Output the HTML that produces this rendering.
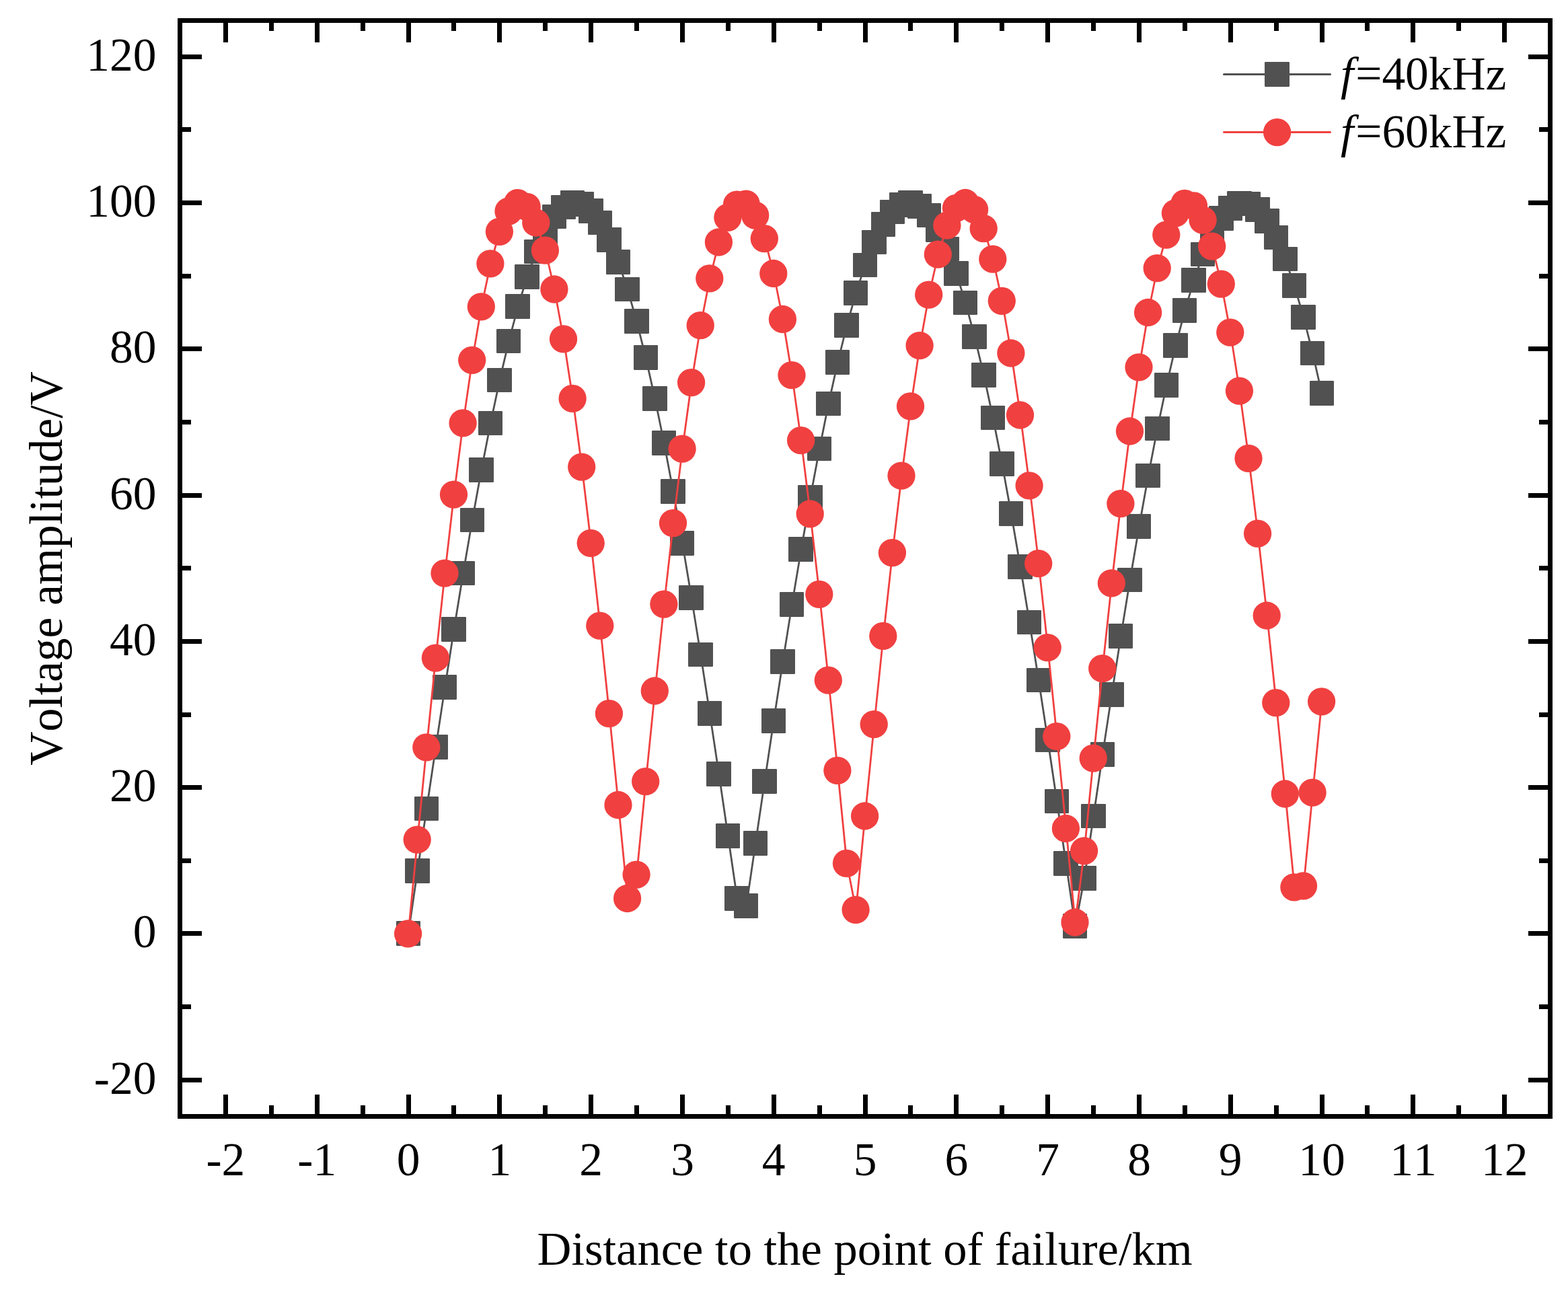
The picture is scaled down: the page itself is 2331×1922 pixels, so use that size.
<!DOCTYPE html>
<html lang="en"><head><meta charset="utf-8"><title>Voltage amplitude vs distance to the point of failure</title>
<style>
html,body{margin:0;padding:0;background:#fff;}
body{width:2331px;height:1922px;}
svg{display:block;}
text{font-family:"Liberation Serif","Times New Roman",Times,serif;fill:#000;font-kerning:none;}
.it{font-style:italic;}
</style></head><body>
<svg width="2331" height="1922" viewBox="0 0 2331 1922">
<rect x="0" y="0" width="2331" height="1922" fill="#ffffff"/>
<g>
<polyline fill="none" stroke="#515151" stroke-width="2.8" stroke-linejoin="round" stroke-linecap="round" points="607.0,1388.0 620.6,1294.8 634.2,1202.2 647.8,1111.0 661.4,1021.9 674.9,935.5 688.5,852.4 702.1,773.2 715.7,698.6 729.3,629.1 742.8,565.2 756.4,507.3 770.0,456.0 783.6,411.5 797.2,374.3 810.8,344.5 824.3,322.4 837.9,308.2 851.5,301.9 865.1,303.7 878.6,313.5 892.2,331.2 905.8,356.7 919.4,389.8 933.0,430.2 946.5,477.8 960.1,532.0 973.7,592.6 987.3,659.0 1000.9,730.9 1014.5,807.5 1028.0,888.5 1041.6,973.1 1055.2,1060.8 1068.8,1150.9 1082.3,1242.8 1095.9,1335.7 1109.5,1346.9 1123.1,1253.9 1136.7,1161.9 1150.2,1071.5 1163.8,983.5 1177.4,898.4 1191.0,817.0 1204.6,739.8 1218.2,667.4 1231.7,600.3 1245.3,539.0 1258.9,483.9 1272.5,435.6 1286.0,394.2 1299.6,360.2 1313.2,333.8 1326.8,315.2 1340.4,304.4 1354.0,301.7 1367.5,307.0 1381.1,320.3 1394.7,341.4 1408.3,370.3 1421.8,406.7 1435.4,450.3 1449.0,500.8 1462.6,557.9 1476.2,621.1 1489.8,690.0 1503.3,764.0 1516.9,842.7 1530.5,925.3 1544.1,1011.4 1557.7,1100.2 1571.2,1191.2 1584.8,1283.6 1598.4,1376.8 1612.0,1305.9 1625.6,1213.2 1639.1,1121.9 1652.7,1032.4 1666.3,945.6 1679.9,862.1 1693.5,782.5 1707.0,707.3 1720.6,637.1 1734.2,572.5 1747.8,513.9 1761.4,461.8 1774.9,416.5 1788.5,378.3 1802.1,347.6 1815.7,324.6 1829.2,309.5 1842.8,302.3 1856.4,303.1 1870.0,311.9 1883.6,328.6 1897.2,353.2 1910.7,385.4 1924.3,425.0 1937.9,471.7 1951.5,525.2 1965.0,585.0"/>
<g fill="#515151">
<rect x="589" y="1369" width="36" height="37" rx="1.2"/>
<rect x="602" y="1276" width="37" height="37" rx="1.2"/>
<rect x="616" y="1184" width="36" height="36" rx="1.2"/>
<rect x="629" y="1092" width="37" height="37" rx="1.2"/>
<rect x="643" y="1003" width="36" height="37" rx="1.2"/>
<rect x="656" y="917" width="37" height="37" rx="1.2"/>
<rect x="670" y="834" width="36" height="36" rx="1.2"/>
<rect x="684" y="755" width="36" height="36" rx="1.2"/>
<rect x="697" y="680" width="37" height="37" rx="1.2"/>
<rect x="711" y="611" width="36" height="36" rx="1.2"/>
<rect x="724" y="547" width="37" height="36" rx="1.2"/>
<rect x="738" y="489" width="36" height="36" rx="1.2"/>
<rect x="751" y="437" width="37" height="37" rx="1.2"/>
<rect x="765" y="393" width="37" height="37" rx="1.2"/>
<rect x="779" y="356" width="36" height="36" rx="1.2"/>
<rect x="792" y="326" width="37" height="37" rx="1.2"/>
<rect x="806" y="304" width="36" height="36" rx="1.2"/>
<rect x="819" y="290" width="37" height="36" rx="1.2"/>
<rect x="833" y="283" width="36" height="37" rx="1.2"/>
<rect x="847" y="285" width="36" height="37" rx="1.2"/>
<rect x="860" y="295" width="37" height="37" rx="1.2"/>
<rect x="874" y="313" width="36" height="36" rx="1.2"/>
<rect x="887" y="338" width="37" height="37" rx="1.2"/>
<rect x="901" y="371" width="36" height="37" rx="1.2"/>
<rect x="914" y="412" width="37" height="36" rx="1.2"/>
<rect x="928" y="459" width="37" height="37" rx="1.2"/>
<rect x="942" y="513" width="36" height="37" rx="1.2"/>
<rect x="955" y="574" width="37" height="37" rx="1.2"/>
<rect x="969" y="640" width="36" height="37" rx="1.2"/>
<rect x="982" y="712" width="37" height="37" rx="1.2"/>
<rect x="996" y="789" width="36" height="37" rx="1.2"/>
<rect x="1009" y="870" width="37" height="37" rx="1.2"/>
<rect x="1023" y="955" width="37" height="36" rx="1.2"/>
<rect x="1037" y="1042" width="36" height="37" rx="1.2"/>
<rect x="1050" y="1132" width="37" height="37" rx="1.2"/>
<rect x="1064" y="1224" width="36" height="37" rx="1.2"/>
<rect x="1077" y="1317" width="37" height="37" rx="1.2"/>
<rect x="1091" y="1328" width="36" height="37" rx="1.2"/>
<rect x="1105" y="1235" width="36" height="37" rx="1.2"/>
<rect x="1118" y="1143" width="37" height="37" rx="1.2"/>
<rect x="1132" y="1053" width="36" height="37" rx="1.2"/>
<rect x="1145" y="965" width="37" height="37" rx="1.2"/>
<rect x="1159" y="880" width="36" height="37" rx="1.2"/>
<rect x="1172" y="798" width="37" height="37" rx="1.2"/>
<rect x="1186" y="721" width="37" height="37" rx="1.2"/>
<rect x="1200" y="649" width="36" height="36" rx="1.2"/>
<rect x="1213" y="582" width="37" height="36" rx="1.2"/>
<rect x="1227" y="520" width="36" height="37" rx="1.2"/>
<rect x="1240" y="465" width="37" height="37" rx="1.2"/>
<rect x="1254" y="417" width="36" height="37" rx="1.2"/>
<rect x="1268" y="376" width="36" height="36" rx="1.2"/>
<rect x="1281" y="342" width="37" height="36" rx="1.2"/>
<rect x="1295" y="315" width="36" height="37" rx="1.2"/>
<rect x="1308" y="297" width="37" height="36" rx="1.2"/>
<rect x="1322" y="286" width="36" height="37" rx="1.2"/>
<rect x="1335" y="283" width="37" height="37" rx="1.2"/>
<rect x="1349" y="288" width="36" height="37" rx="1.2"/>
<rect x="1363" y="302" width="36" height="36" rx="1.2"/>
<rect x="1376" y="323" width="37" height="37" rx="1.2"/>
<rect x="1390" y="352" width="36" height="36" rx="1.2"/>
<rect x="1403" y="388" width="37" height="37" rx="1.2"/>
<rect x="1417" y="432" width="36" height="36" rx="1.2"/>
<rect x="1430" y="482" width="37" height="37" rx="1.2"/>
<rect x="1444" y="539" width="37" height="37" rx="1.2"/>
<rect x="1458" y="603" width="36" height="36" rx="1.2"/>
<rect x="1471" y="671" width="37" height="37" rx="1.2"/>
<rect x="1485" y="745" width="36" height="37" rx="1.2"/>
<rect x="1498" y="824" width="37" height="37" rx="1.2"/>
<rect x="1512" y="907" width="36" height="36" rx="1.2"/>
<rect x="1526" y="993" width="36" height="36" rx="1.2"/>
<rect x="1539" y="1082" width="37" height="36" rx="1.2"/>
<rect x="1553" y="1173" width="36" height="36" rx="1.2"/>
<rect x="1566" y="1265" width="37" height="37" rx="1.2"/>
<rect x="1580" y="1358" width="36" height="37" rx="1.2"/>
<rect x="1593" y="1287" width="37" height="37" rx="1.2"/>
<rect x="1607" y="1195" width="37" height="36" rx="1.2"/>
<rect x="1621" y="1103" width="36" height="37" rx="1.2"/>
<rect x="1634" y="1014" width="37" height="37" rx="1.2"/>
<rect x="1648" y="927" width="36" height="37" rx="1.2"/>
<rect x="1661" y="844" width="37" height="36" rx="1.2"/>
<rect x="1675" y="764" width="36" height="37" rx="1.2"/>
<rect x="1688" y="689" width="37" height="36" rx="1.2"/>
<rect x="1702" y="619" width="37" height="36" rx="1.2"/>
<rect x="1716" y="554" width="36" height="37" rx="1.2"/>
<rect x="1729" y="495" width="37" height="37" rx="1.2"/>
<rect x="1743" y="443" width="36" height="37" rx="1.2"/>
<rect x="1756" y="398" width="37" height="37" rx="1.2"/>
<rect x="1770" y="360" width="36" height="36" rx="1.2"/>
<rect x="1784" y="329" width="36" height="37" rx="1.2"/>
<rect x="1797" y="306" width="37" height="37" rx="1.2"/>
<rect x="1811" y="291" width="36" height="37" rx="1.2"/>
<rect x="1824" y="284" width="37" height="36" rx="1.2"/>
<rect x="1838" y="285" width="36" height="36" rx="1.2"/>
<rect x="1851" y="293" width="37" height="37" rx="1.2"/>
<rect x="1865" y="310" width="37" height="37" rx="1.2"/>
<rect x="1879" y="335" width="36" height="36" rx="1.2"/>
<rect x="1892" y="367" width="37" height="36" rx="1.2"/>
<rect x="1906" y="406" width="36" height="37" rx="1.2"/>
<rect x="1919" y="453" width="37" height="37" rx="1.2"/>
<rect x="1933" y="507" width="36" height="36" rx="1.2"/>
<rect x="1947" y="566" width="36" height="37" rx="1.2"/>
</g></g>
<g>
<polyline fill="none" stroke="#F14040" stroke-width="2.8" stroke-linejoin="round" stroke-linecap="round" points="607.0,1388.0 620.6,1248.3 634.2,1111.0 647.8,978.3 661.4,852.4 674.9,735.3 688.5,629.1 702.1,535.5 715.7,456.0 729.3,392.0 742.8,344.5 756.4,314.3 770.0,301.9 783.6,307.6 797.2,331.2 810.8,372.3 824.3,430.2 837.9,504.1 851.5,592.6 865.1,694.3 878.6,807.5 892.2,930.4 905.8,1060.8 919.4,1196.7 933.0,1335.7 946.5,1300.3 960.1,1161.9 973.7,1027.2 987.3,898.4 1000.9,777.8 1014.5,667.4 1028.0,568.8 1041.6,483.9 1055.2,414.0 1068.8,360.2 1082.3,323.5 1095.9,304.4 1109.5,303.4 1123.1,320.3 1136.7,354.9 1150.2,406.7 1163.8,474.7 1177.4,557.9 1191.0,654.9 1204.6,764.0 1218.2,883.5 1231.7,1011.4 1245.3,1145.5 1258.9,1283.6 1272.5,1352.5 1286.0,1213.2 1299.6,1076.9 1313.2,945.6 1326.8,821.8 1340.4,707.3 1354.0,604.1 1367.5,513.9 1381.1,438.3 1394.7,378.3 1408.3,335.2 1421.8,309.5 1435.4,301.7 1449.0,311.9 1462.6,339.9 1476.2,385.4 1489.8,447.5 1503.3,525.2 1516.9,617.2 1530.5,722.0 1544.1,837.8 1557.7,962.8 1571.2,1094.8 1584.8,1231.7 1598.4,1371.2 1612.0,1265.0 1625.6,1127.3 1639.1,993.9 1652.7,867.0 1666.3,748.8 1679.9,641.2 1693.5,546.0 1707.0,464.7 1720.6,398.8 1734.2,349.3 1747.8,317.0 1761.4,302.5 1774.9,306.0 1788.5,327.4 1802.1,366.4 1815.7,422.4 1829.2,494.4 1842.8,581.3 1856.4,681.5 1870.0,793.4 1883.6,915.2 1897.2,1044.9 1910.7,1180.2 1924.3,1319.0 1937.9,1317.1 1951.5,1178.3 1965.0,1043.0"/>
<g fill="#F14040">
<circle cx="606.6" cy="1387.8" r="20.65"/>
<circle cx="620.2" cy="1248.1" r="20.65"/>
<circle cx="633.8" cy="1110.8" r="20.65"/>
<circle cx="647.4" cy="978.1" r="20.65"/>
<circle cx="661.0" cy="852.2" r="20.65"/>
<circle cx="674.5" cy="735.1" r="20.65"/>
<circle cx="688.1" cy="628.9" r="20.65"/>
<circle cx="701.7" cy="535.3" r="20.65"/>
<circle cx="715.3" cy="455.8" r="20.65"/>
<circle cx="728.9" cy="391.8" r="20.65"/>
<circle cx="742.4" cy="344.3" r="20.65"/>
<circle cx="756.0" cy="314.1" r="20.65"/>
<circle cx="769.6" cy="301.7" r="20.65"/>
<circle cx="783.2" cy="307.4" r="20.65"/>
<circle cx="796.8" cy="331.0" r="20.65"/>
<circle cx="810.4" cy="372.1" r="20.65"/>
<circle cx="823.9" cy="430.0" r="20.65"/>
<circle cx="837.5" cy="503.9" r="20.65"/>
<circle cx="851.1" cy="592.4" r="20.65"/>
<circle cx="864.7" cy="694.1" r="20.65"/>
<circle cx="878.2" cy="807.3" r="20.65"/>
<circle cx="891.8" cy="930.2" r="20.65"/>
<circle cx="905.4" cy="1060.6" r="20.65"/>
<circle cx="919.0" cy="1196.5" r="20.65"/>
<circle cx="932.6" cy="1335.5" r="20.65"/>
<circle cx="946.1" cy="1300.1" r="20.65"/>
<circle cx="959.7" cy="1161.7" r="20.65"/>
<circle cx="973.3" cy="1027.0" r="20.65"/>
<circle cx="986.9" cy="898.2" r="20.65"/>
<circle cx="1000.5" cy="777.6" r="20.65"/>
<circle cx="1014.1" cy="667.2" r="20.65"/>
<circle cx="1027.6" cy="568.6" r="20.65"/>
<circle cx="1041.2" cy="483.7" r="20.65"/>
<circle cx="1054.8" cy="413.8" r="20.65"/>
<circle cx="1068.4" cy="360.0" r="20.65"/>
<circle cx="1081.9" cy="323.3" r="20.65"/>
<circle cx="1095.5" cy="304.2" r="20.65"/>
<circle cx="1109.1" cy="303.2" r="20.65"/>
<circle cx="1122.7" cy="320.1" r="20.65"/>
<circle cx="1136.3" cy="354.7" r="20.65"/>
<circle cx="1149.8" cy="406.5" r="20.65"/>
<circle cx="1163.4" cy="474.5" r="20.65"/>
<circle cx="1177.0" cy="557.7" r="20.65"/>
<circle cx="1190.6" cy="654.7" r="20.65"/>
<circle cx="1204.2" cy="763.8" r="20.65"/>
<circle cx="1217.8" cy="883.3" r="20.65"/>
<circle cx="1231.3" cy="1011.2" r="20.65"/>
<circle cx="1244.9" cy="1145.3" r="20.65"/>
<circle cx="1258.5" cy="1283.4" r="20.65"/>
<circle cx="1272.1" cy="1352.3" r="20.65"/>
<circle cx="1285.6" cy="1213.0" r="20.65"/>
<circle cx="1299.2" cy="1076.7" r="20.65"/>
<circle cx="1312.8" cy="945.4" r="20.65"/>
<circle cx="1326.4" cy="821.6" r="20.65"/>
<circle cx="1340.0" cy="707.1" r="20.65"/>
<circle cx="1353.5" cy="603.9" r="20.65"/>
<circle cx="1367.1" cy="513.7" r="20.65"/>
<circle cx="1380.7" cy="438.1" r="20.65"/>
<circle cx="1394.3" cy="378.1" r="20.65"/>
<circle cx="1407.9" cy="335.0" r="20.65"/>
<circle cx="1421.4" cy="309.3" r="20.65"/>
<circle cx="1435.0" cy="301.5" r="20.65"/>
<circle cx="1448.6" cy="311.7" r="20.65"/>
<circle cx="1462.2" cy="339.7" r="20.65"/>
<circle cx="1475.8" cy="385.2" r="20.65"/>
<circle cx="1489.3" cy="447.3" r="20.65"/>
<circle cx="1502.9" cy="525.0" r="20.65"/>
<circle cx="1516.5" cy="617.0" r="20.65"/>
<circle cx="1530.1" cy="721.8" r="20.65"/>
<circle cx="1543.7" cy="837.6" r="20.65"/>
<circle cx="1557.2" cy="962.6" r="20.65"/>
<circle cx="1570.8" cy="1094.6" r="20.65"/>
<circle cx="1584.4" cy="1231.5" r="20.65"/>
<circle cx="1598.0" cy="1371.0" r="20.65"/>
<circle cx="1611.6" cy="1264.8" r="20.65"/>
<circle cx="1625.2" cy="1127.1" r="20.65"/>
<circle cx="1638.7" cy="993.7" r="20.65"/>
<circle cx="1652.3" cy="866.8" r="20.65"/>
<circle cx="1665.9" cy="748.6" r="20.65"/>
<circle cx="1679.5" cy="641.0" r="20.65"/>
<circle cx="1693.0" cy="545.8" r="20.65"/>
<circle cx="1706.6" cy="464.5" r="20.65"/>
<circle cx="1720.2" cy="398.6" r="20.65"/>
<circle cx="1733.8" cy="349.1" r="20.65"/>
<circle cx="1747.4" cy="316.8" r="20.65"/>
<circle cx="1761.0" cy="302.3" r="20.65"/>
<circle cx="1774.5" cy="305.8" r="20.65"/>
<circle cx="1788.1" cy="327.2" r="20.65"/>
<circle cx="1801.7" cy="366.2" r="20.65"/>
<circle cx="1815.3" cy="422.2" r="20.65"/>
<circle cx="1828.8" cy="494.2" r="20.65"/>
<circle cx="1842.4" cy="581.1" r="20.65"/>
<circle cx="1856.0" cy="681.3" r="20.65"/>
<circle cx="1869.6" cy="793.2" r="20.65"/>
<circle cx="1883.2" cy="915.0" r="20.65"/>
<circle cx="1896.8" cy="1044.7" r="20.65"/>
<circle cx="1910.3" cy="1180.0" r="20.65"/>
<circle cx="1923.9" cy="1318.8" r="20.65"/>
<circle cx="1937.5" cy="1316.9" r="20.65"/>
<circle cx="1951.1" cy="1178.1" r="20.65"/>
<circle cx="1964.6" cy="1042.8" r="20.65"/>
</g></g>
<g fill="#000" shape-rendering="crispEdges">
<rect x="264" y="27" width="2044" height="7"/>
<rect x="264" y="1656" width="2044" height="7"/>
<rect x="264" y="27" width="7" height="1636"/>
<rect x="2301" y="27" width="7" height="1636"/>
<rect x="332" y="27" width="7" height="36"/>
<rect x="332" y="1627" width="7" height="36"/>
<rect x="400" y="27" width="7" height="19"/>
<rect x="400" y="1643" width="7" height="20"/>
<rect x="468" y="27" width="7" height="36"/>
<rect x="468" y="1627" width="7" height="36"/>
<rect x="536" y="27" width="7" height="19"/>
<rect x="536" y="1643" width="7" height="20"/>
<rect x="604" y="27" width="7" height="36"/>
<rect x="604" y="1627" width="7" height="36"/>
<rect x="671" y="27" width="7" height="19"/>
<rect x="671" y="1643" width="7" height="20"/>
<rect x="739" y="27" width="7" height="36"/>
<rect x="739" y="1627" width="7" height="36"/>
<rect x="807" y="27" width="7" height="19"/>
<rect x="807" y="1643" width="7" height="20"/>
<rect x="875" y="27" width="7" height="36"/>
<rect x="875" y="1627" width="7" height="36"/>
<rect x="943" y="27" width="7" height="19"/>
<rect x="943" y="1643" width="7" height="20"/>
<rect x="1011" y="27" width="7" height="36"/>
<rect x="1011" y="1627" width="7" height="36"/>
<rect x="1079" y="27" width="7" height="19"/>
<rect x="1079" y="1643" width="7" height="20"/>
<rect x="1147" y="27" width="7" height="36"/>
<rect x="1147" y="1627" width="7" height="36"/>
<rect x="1215" y="27" width="7" height="19"/>
<rect x="1215" y="1643" width="7" height="20"/>
<rect x="1283" y="27" width="7" height="36"/>
<rect x="1283" y="1627" width="7" height="36"/>
<rect x="1350" y="27" width="7" height="19"/>
<rect x="1350" y="1643" width="7" height="20"/>
<rect x="1418" y="27" width="7" height="36"/>
<rect x="1418" y="1627" width="7" height="36"/>
<rect x="1486" y="27" width="7" height="19"/>
<rect x="1486" y="1643" width="7" height="20"/>
<rect x="1554" y="27" width="7" height="36"/>
<rect x="1554" y="1627" width="7" height="36"/>
<rect x="1622" y="27" width="7" height="19"/>
<rect x="1622" y="1643" width="7" height="20"/>
<rect x="1690" y="27" width="7" height="36"/>
<rect x="1690" y="1627" width="7" height="36"/>
<rect x="1758" y="27" width="7" height="19"/>
<rect x="1758" y="1643" width="7" height="20"/>
<rect x="1826" y="27" width="7" height="36"/>
<rect x="1826" y="1627" width="7" height="36"/>
<rect x="1894" y="27" width="7" height="19"/>
<rect x="1894" y="1643" width="7" height="20"/>
<rect x="1962" y="27" width="7" height="36"/>
<rect x="1962" y="1627" width="7" height="36"/>
<rect x="2029" y="27" width="7" height="19"/>
<rect x="2029" y="1643" width="7" height="20"/>
<rect x="2097" y="27" width="7" height="36"/>
<rect x="2097" y="1627" width="7" height="36"/>
<rect x="2165" y="27" width="7" height="19"/>
<rect x="2165" y="1643" width="7" height="20"/>
<rect x="2233" y="27" width="7" height="36"/>
<rect x="2233" y="1627" width="7" height="36"/>
<rect x="264" y="1602" width="36" height="7"/>
<rect x="2272" y="1602" width="36" height="7"/>
<rect x="264" y="1493" width="20" height="7"/>
<rect x="2288" y="1493" width="20" height="7"/>
<rect x="264" y="1384" width="36" height="7"/>
<rect x="2272" y="1384" width="36" height="7"/>
<rect x="264" y="1276" width="20" height="7"/>
<rect x="2288" y="1276" width="20" height="7"/>
<rect x="264" y="1167" width="36" height="7"/>
<rect x="2272" y="1167" width="36" height="7"/>
<rect x="264" y="1059" width="20" height="7"/>
<rect x="2288" y="1059" width="20" height="7"/>
<rect x="264" y="950" width="36" height="7"/>
<rect x="2272" y="950" width="36" height="7"/>
<rect x="264" y="841" width="20" height="7"/>
<rect x="2288" y="841" width="20" height="7"/>
<rect x="264" y="733" width="36" height="7"/>
<rect x="2272" y="733" width="36" height="7"/>
<rect x="264" y="624" width="20" height="7"/>
<rect x="2288" y="624" width="20" height="7"/>
<rect x="264" y="515" width="36" height="7"/>
<rect x="2272" y="515" width="36" height="7"/>
<rect x="264" y="407" width="20" height="7"/>
<rect x="2288" y="407" width="20" height="7"/>
<rect x="264" y="298" width="36" height="7"/>
<rect x="2272" y="298" width="36" height="7"/>
<rect x="264" y="189" width="20" height="7"/>
<rect x="2288" y="189" width="20" height="7"/>
<rect x="264" y="81" width="36" height="7"/>
<rect x="2272" y="81" width="36" height="7"/>
</g>
<g font-size="69.5">
<text x="232.5" y="1625.6" text-anchor="end">-20</text>
<text x="232.5" y="1408.3" text-anchor="end">0</text>
<text x="232.5" y="1191.0" text-anchor="end">20</text>
<text x="232.5" y="973.7" text-anchor="end">40</text>
<text x="232.5" y="756.5" text-anchor="end">60</text>
<text x="232.5" y="539.2" text-anchor="end">80</text>
<text x="232.5" y="321.9" text-anchor="end">100</text>
<text x="232.5" y="104.6" text-anchor="end">120</text>
<text x="335.4" y="1746.5" text-anchor="middle">-2</text>
<text x="471.2" y="1746.5" text-anchor="middle">-1</text>
<text x="607.0" y="1746.5" text-anchor="middle">0</text>
<text x="742.8" y="1746.5" text-anchor="middle">1</text>
<text x="878.6" y="1746.5" text-anchor="middle">2</text>
<text x="1014.5" y="1746.5" text-anchor="middle">3</text>
<text x="1150.2" y="1746.5" text-anchor="middle">4</text>
<text x="1286.0" y="1746.5" text-anchor="middle">5</text>
<text x="1421.8" y="1746.5" text-anchor="middle">6</text>
<text x="1557.7" y="1746.5" text-anchor="middle">7</text>
<text x="1693.5" y="1746.5" text-anchor="middle">8</text>
<text x="1829.2" y="1746.5" text-anchor="middle">9</text>
<text x="1965.0" y="1746.5" text-anchor="middle">10</text>
<text x="2100.9" y="1746.5" text-anchor="middle">11</text>
<text x="2236.7" y="1746.5" text-anchor="middle">12</text>
</g>
<text x="1285.6" y="1880.0" font-size="70.6" text-anchor="middle">Distance to the point of failure/km</text>
<text transform="translate(92.3 845.0) rotate(-90)" font-size="69.6" text-anchor="middle">Voltage amplitude/V</text>
<g>
<line x1="1819.5" y1="110.5" x2="1977.5" y2="110.5" stroke="#515151" stroke-width="3" stroke-linecap="round"/>
<rect x="1880" y="92" width="37" height="37" rx="1.2" fill="#515151"/>
<line x1="1819.5" y1="196.5" x2="1977.5" y2="196.5" stroke="#F14040" stroke-width="3" stroke-linecap="round"/>
<circle cx="1898.6" cy="196.6" r="20.65" fill="#F14040"/>
<text x="1996.0" y="132.8" font-size="69.4"><tspan class="it" dx="-3">f</tspan><tspan dx="3">=40kHz</tspan></text>
<text x="1996.0" y="218.8" font-size="69.4"><tspan class="it" dx="-3">f</tspan><tspan dx="3">=60kHz</tspan></text>
</g>
</svg></body></html>
